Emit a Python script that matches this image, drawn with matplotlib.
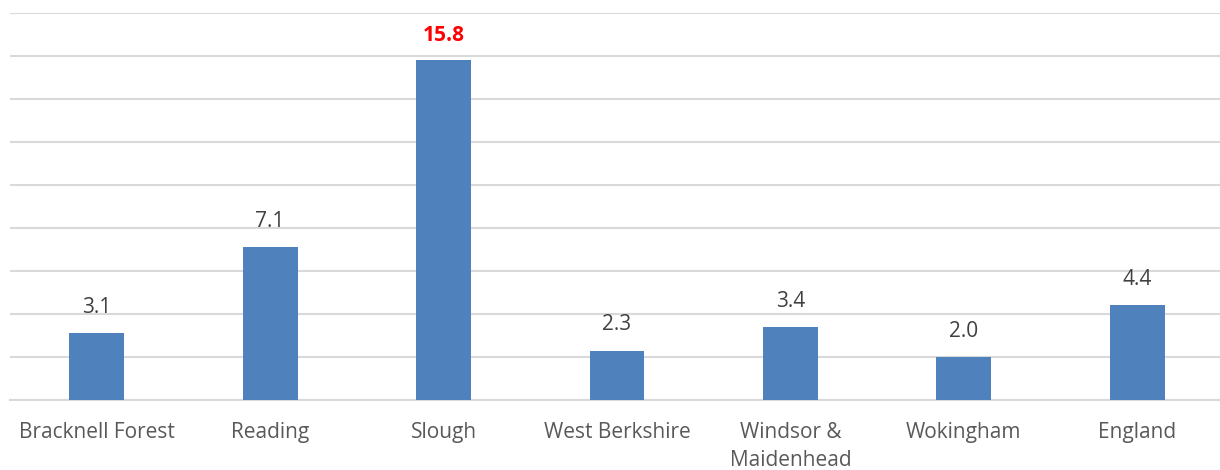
import matplotlib
matplotlib.use("Agg")
import matplotlib.pyplot as plt

categories = ["Bracknell Forest", "Reading", "Slough", "West Berkshire",
              "Windsor &\nMaidenhead", "Wokingham", "England"]
values = [3.1, 7.1, 15.8, 2.3, 3.4, 2.0, 4.4]
label_texts = ["3.1", "7.1", "15.8", "2.3", "3.4", "2.0", "4.4"]
highlight = "Slough"

plt.rcParams['font.family'] = ['Open Sans', 'DejaVu Sans']

fig = plt.figure(figsize=(12.2, 4.7), dpi=100)
ax = fig.add_axes([10/1220, 70/470, 1214/1220, 387/470])

x = list(range(len(categories)))
bars = ax.bar(x, values, width=0.317, color="#4f81bd", zorder=3)

ax.set_xlim(-0.5, len(categories) - 0.5)
ax.set_ylim(0, 18)
ax.set_yticks(range(0, 19, 2))
ax.yaxis.grid(True, color="#d9d9d9", linewidth=1.5, zorder=0)
ax.tick_params(axis='y', left=False, labelleft=False)
ax.tick_params(axis='x', length=0, pad=16, labelsize=15, labelcolor="#595959")
ax.set_xticks(x)
ax.set_xticklabels(categories, linespacing=1.45, va='top')
for s in ["top", "right", "left"]:
    ax.spines[s].set_visible(False)
ax.spines["bottom"].set_color("#d9d9d9")
ax.spines["bottom"].set_linewidth(1.5)

for xi, v, t, c in zip(x, values, label_texts, categories):
    if c == highlight:
        ax.annotate(t, (xi, v), xytext=(0, 10), textcoords="offset points",
                    ha="center", va="bottom", fontsize=15, color="#ff0000",
                    fontweight="bold")
    else:
        ax.annotate(t, (xi, v), xytext=(0, 11), textcoords="offset points",
                    ha="center", va="bottom", fontsize=15, color="#404040")

fig.savefig("out.png", dpi=100)
